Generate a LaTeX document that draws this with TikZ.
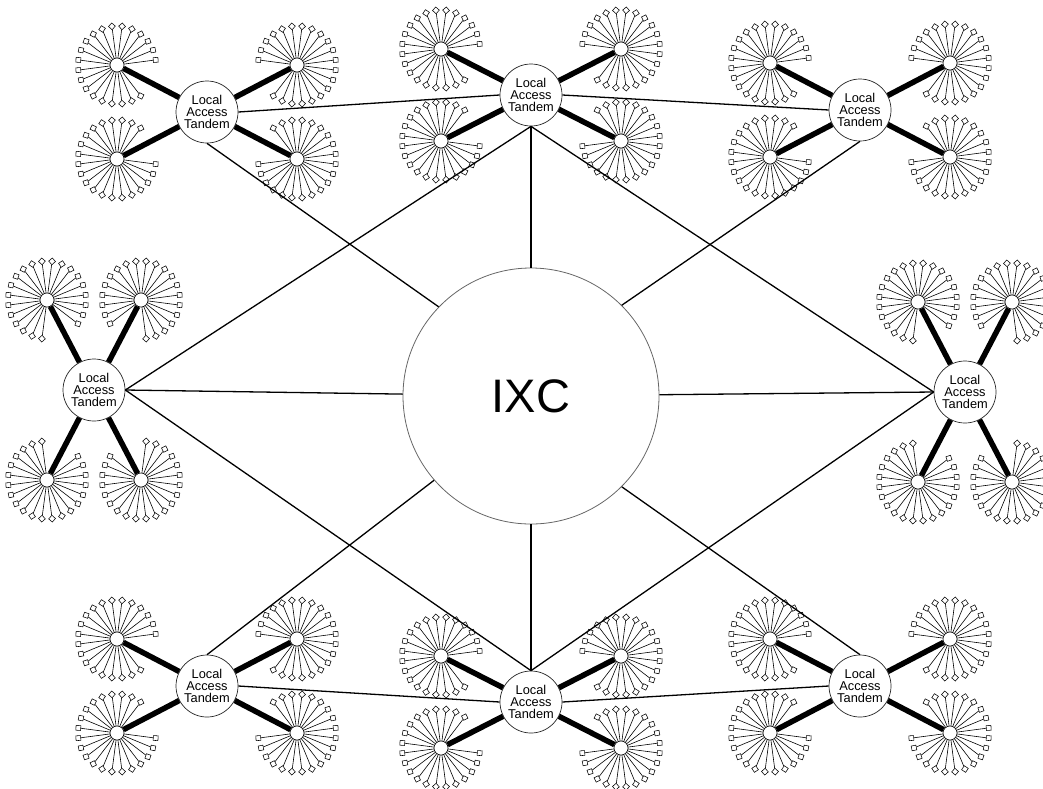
\documentclass[tikz,border=0pt]{standalone}
\usepackage{fontspec}
\setmainfont{Liberation Sans}
\begin{document}
\begin{tikzpicture}[x=1pt,y=-1pt,
  tandem/.style={circle,draw=black!85,line width=0.7pt,fill=white,minimum size=62pt,inner sep=0pt,align=center,font=\fontsize{12.8}{12.4}\selectfont},
  ixc/.style={circle,draw=black!60,line width=0.8pt,fill=white,minimum size=256pt,inner sep=0pt,font=\fontsize{47}{47}\selectfont},
  hub/.style={circle,draw=black,line width=0.6pt,fill=white,minimum size=14pt,inner sep=0pt},
  leaf/.style={rectangle,draw=black,line width=0.55pt,fill=white,minimum size=4.8pt,inner sep=0pt},
  spoke/.style={line width=0.6pt},
  trunk/.style={line width=5.5pt},
  link/.style={line width=1.3pt}]
\useasboundingbox (0,0) rectangle (1043,788);
\newcommand\hubstar[5]{%
  \pgfmathsetmacro\la{atan2(#3-#5,#4-#2)}%
  \foreach \a in {7.5,22.5,...,352.5}{%
    \pgfmathsetmacro\dd{abs(mod(\a-\la+540,360)-180)}%
    \ifdim\dd pt>22pt
      \path (#2,#3) ++(\a:39pt) node[leaf,rotate=\a/2] (lf) {};
      \draw[spoke] (#2,#3) -- (lf);
    \fi
  }%
  \node[hub] (#1) at (#2,#3) {};
}
\newcommand\cluster[5]{%
  \node[tandem] (#1) at (#2,#3) {Local\\Access\\Tandem};
  \pgfmathsetmacro\xa{#2-#4}\pgfmathsetmacro\xb{#2+#4}%
  \pgfmathsetmacro\ya{#3-#5}\pgfmathsetmacro\yb{#3+#5}%
  \hubstar{#1a}{\xa}{\ya}{#2}{#3}
  \hubstar{#1b}{\xb}{\ya}{#2}{#3}
  \hubstar{#1c}{\xa}{\yb}{#2}{#3}
  \hubstar{#1d}{\xb}{\yb}{#2}{#3}
  \draw[trunk] (#1) -- (#1a);
  \draw[trunk] (#1) -- (#1b);
  \draw[trunk] (#1) -- (#1c);
  \draw[trunk] (#1) -- (#1d);
}
\node[ixc] (IXC) at (531,396) {IXC};
\cluster{TL}{207}{112}{90}{47}
\cluster{TM}{531}{95}{90}{46}
\cluster{TR}{860}{110}{90}{47}
\cluster{L}{94}{390}{47}{90}
\cluster{R}{965}{392}{47}{90}
\cluster{BL}{207}{686}{90}{47}
\cluster{BM}{531}{702}{90}{46}
\cluster{BR}{860}{686}{90}{47}
% inter-tandem links
\draw[link] (TL.east) -- (TM.west);
\draw[link] (TM.east) -- (TR.west);
\draw[link] (BL.east) -- (BM.west);
\draw[link] (BM.east) -- (BR.west);
% links to IXC
\draw[link] (TM.south) -- (IXC);
\draw[link] (BM.north) -- (IXC);
\draw[link] (L.east) -- (IXC);
\draw[link] (R.west) -- (IXC);
\draw[link] (TL.south) -- (IXC.136);
\draw[link] (TR.south) -- (IXC.45);
\draw[link] (BL.north) -- (IXC.221);
\draw[link] (BR.north) -- (IXC.315);
% diamond links
\draw[link] (TM.south) -- (L.east);
\draw[link] (TM.south) -- (R.west);
\draw[link] (BM.north) -- (L.east);
\draw[link] (BM.north) -- (R.west);
\end{tikzpicture}
\end{document}
